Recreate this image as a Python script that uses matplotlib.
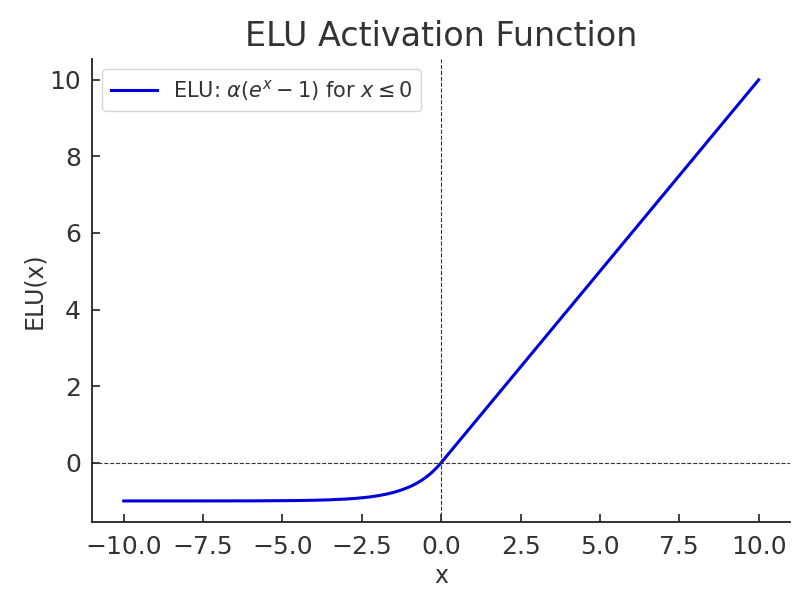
import matplotlib.pyplot as plt

# ELU curve values
x_vals = [-10.0, -9.0, -8.0, -7.0, -6.0, -5.0, -4.5, -4.0, -3.5, -3.0, -2.75, -2.5,
          -2.25, -2.0, -1.75, -1.5, -1.25, -1.0, -0.875, -0.75, -0.625, -0.5, -0.375,
          -0.25, -0.125, 0.0, 2.5, 5.0, 7.5, 10.0]
y_vals = [-1.0, -1.0, -1.0, -0.999, -0.998, -0.993, -0.989, -0.982, -0.970, -0.950,
          -0.936, -0.918, -0.895, -0.865, -0.826, -0.777, -0.713, -0.632, -0.583,
          -0.528, -0.465, -0.393, -0.313, -0.221, -0.118, 0.0, 2.5, 5.0, 7.5, 10.0]

plt.rcParams['font.family'] = ['DejaVu Sans']
fig, ax = plt.subplots(figsize=(8, 6), dpi=100)

ax.plot(x_vals, y_vals, color='#0000dd', linewidth=2.2,
        label=r'ELU: $\alpha(e^x - 1)$ for $x \leq 0$')
ax.axhline(0, color='#333333', linestyle='--', linewidth=0.8)
ax.axvline(0, color='#333333', linestyle='--', linewidth=0.8)

ax.set_title('ELU Activation Function', fontsize=24, color='#333333', pad=9)
ax.set_xlabel('x', fontsize=17, color='#333333')
ax.set_ylabel('ELU(x)', fontsize=17, color='#333333', labelpad=2)
ax.tick_params(direction='in', labelsize=18, length=6, width=1.2,
               colors='#222222', labelcolor='#333333')
ax.tick_params(axis='x', pad=9)
ax.tick_params(axis='y', pad=8)
for side in ['top', 'right']:
    ax.spines[side].set_visible(False)
for side in ['left', 'bottom']:
    ax.spines[side].set_linewidth(1.3)
    ax.spines[side].set_color('#222222')

ax.legend(loc='upper left', fontsize=15, handlelength=2.2, labelcolor='#333333')

fig.subplots_adjust(left=0.115, right=0.988, top=0.902, bottom=0.13)
fig.savefig('out.png')
